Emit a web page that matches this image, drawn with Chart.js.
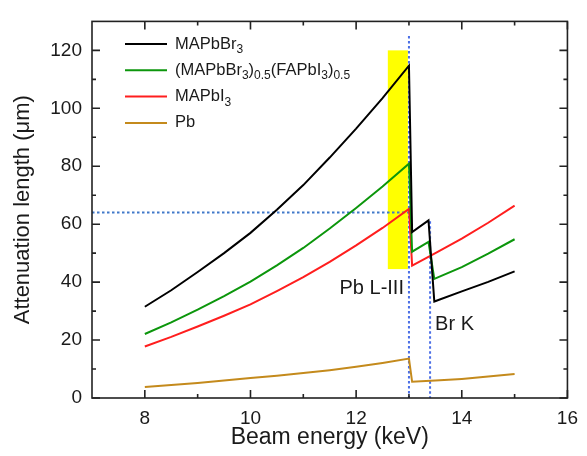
<!DOCTYPE html>
<html>
<head>
    <title>Attenuation length vs beam energy</title>
    <script src="https://cdn.jsdelivr.net/npm/chart.js"></script>
    <style>
        body { margin: 0; background: #fff; }
    </style>
</head>
<body>
    <canvas id="attChart" width="587" height="456"></canvas>

    <script>
        // energies (keV) for the Br-containing samples and for the I / Pb samples
        const energyBr = [8, 8.5, 9, 9.5, 10, 10.5, 11, 11.5, 12, 12.5, 13, 13.06, 13.37, 13.48, 14, 14.5, 15];
        const energyI = [8, 8.5, 9, 9.5, 10, 10.5, 11, 11.5, 12, 12.5, 13, 13.06, 13.5, 14, 14.5, 15];

        // attenuation length (um)
        const mapbbr3 = [31.5, 37.2, 43.5, 50, 57, 65, 73.5, 83, 93, 103.5, 114.7, 57.3, 61.3, 33.3, 36.8, 40.1, 43.7];
        const mixed = [22.1, 26.1, 30.5, 35.2, 40.2, 45.8, 51.8, 58.5, 65.6, 73, 80.9, 50.5, 53.9, 41.1, 45.2, 49.8, 54.8];
        const mapbi3 = [17.8, 21.1, 24.7, 28.4, 32.3, 36.9, 41.7, 47, 52.7, 58.7, 65.3, 45.7, 50, 55, 60.5, 66.4];
        const pb = [3.8, 4.5, 5.2, 6, 6.9, 7.7, 8.6, 9.6, 10.8, 12.1, 13.6, 5.6, 6, 6.6, 7.4, 8.3];

        const seriesNames = ['MAPbBr_{3}', '(MAPbBr_{3})_{0.5}(FAPbI_{3})_{0.5}', 'MAPbI_{3}', 'Pb'];
        const seriesColors = ['#000000', '#0c960c', '#ff1e1e', '#c48a1c'];

        const xTicks = [8, 10, 12, 14, 16];
        const xMinor = [9, 11, 13, 15];
        const yTicks = [0, 20, 40, 60, 80, 100, 120];
        const yMinor = [10, 30, 50, 70, 90, 110];

        // absorption edges and marks
        const edgeEnergy = [13.0, 13.4];
        const edgeTop = [125, 61];
        const edgeNames = ['Pb L-III', 'Br K'];
        const bandEnergy = [12.6, 12.98];
        const bandLength = [44.5, 120];
        const markLength = 64;

        const fontFam = 'Arial, "Liberation Sans", sans-serif';
        const ink = '#1a1a1a';

        function pts(xs, ys) {
            return xs.map((v, i) => ({x: v, y: ys[i]}));
        }

        // text with _{..} subscripts
        function drawRich(ctx, str, x, y, size) {
            const parts = str.split(/_\{([^}]*)\}/);
            let cx = x;
            parts.forEach((p, i) => {
                if (!p) return;
                const sub = i % 2 === 1;
                ctx.font = (sub ? Math.round(size * 0.7) : size) + 'px ' + fontFam;
                ctx.fillText(p, cx, sub ? y + size * 0.35 : y);
                cx += ctx.measureText(p).width;
            });
        }

        const decor = {
            id: 'decor',
            beforeDatasetsDraw(chart) {
                const {ctx, chartArea: a, scales: {x, y}} = chart;
                ctx.save();
                // yellow band
                ctx.fillStyle = '#ffff00';
                const bx0 = x.getPixelForValue(bandEnergy[0]);
                const bx1 = x.getPixelForValue(bandEnergy[1]);
                const by0 = y.getPixelForValue(bandLength[1]);
                const by1 = y.getPixelForValue(bandLength[0]);
                ctx.fillRect(bx0, by0, bx1 - bx0, by1 - by0);

                // edge lines
                ctx.strokeStyle = '#4a6ee6';
                ctx.lineWidth = 2;
                ctx.setLineDash([2.5, 2.5]);
                edgeEnergy.forEach((e, i) => {
                    const px = x.getPixelForValue(e);
                    ctx.beginPath();
                    ctx.moveTo(px, y.getPixelForValue(edgeTop[i]));
                    ctx.lineTo(px, a.bottom);
                    ctx.stroke();
                });

                // horizontal mark
                ctx.strokeStyle = '#4079c9';
                const hy = y.getPixelForValue(markLength);
                ctx.beginPath();
                ctx.moveTo(a.left, hy);
                ctx.lineTo(x.getPixelForValue(edgeEnergy[0]), hy);
                ctx.stroke();
                ctx.restore();
            },
            afterDraw(chart) {
                const {ctx, chartArea: a, scales: {x, y}} = chart;
                ctx.save();
                // frame
                ctx.strokeStyle = '#222';
                ctx.lineWidth = 1.6;
                ctx.strokeRect(a.left, a.top, a.right - a.left, a.bottom - a.top);

                // inward ticks on all four sides
                ctx.beginPath();
                const tickX = (vals, len) => vals.forEach(v => {
                    const px = x.getPixelForValue(v);
                    ctx.moveTo(px, a.bottom); ctx.lineTo(px, a.bottom - len);
                    ctx.moveTo(px, a.top); ctx.lineTo(px, a.top + len);
                });
                const tickY = (vals, len) => vals.forEach(v => {
                    const py = y.getPixelForValue(v);
                    ctx.moveTo(a.left, py); ctx.lineTo(a.left + len, py);
                    ctx.moveTo(a.right, py); ctx.lineTo(a.right - len, py);
                });
                tickX(xTicks, 8); tickX(xMinor, 4);
                tickY(yTicks, 8); tickY(yMinor, 4);
                ctx.stroke();

                // edge labels
                ctx.fillStyle = ink;
                ctx.font = '20px ' + fontFam;
                ctx.textBaseline = 'alphabetic';
                ctx.textAlign = 'right';
                ctx.fillText(edgeNames[0], x.getPixelForValue(edgeEnergy[0]) - 5, 294);
                ctx.textAlign = 'left';
                ctx.fillText(edgeNames[1], x.getPixelForValue(edgeEnergy[1]) + 5, 330);

                // legend
                ctx.textBaseline = 'middle';
                seriesNames.forEach((n, i) => {
                    const ly = 44 + i * 26.3;
                    ctx.strokeStyle = seriesColors[i];
                    ctx.lineWidth = 2;
                    ctx.beginPath();
                    ctx.moveTo(125, ly); ctx.lineTo(167, ly);
                    ctx.stroke();
                    ctx.fillStyle = ink;
                    drawRich(ctx, n, 175, ly, 16.5);
                });
                ctx.restore();
            }
        };

        const ctx = document.getElementById('attChart').getContext('2d');
        new Chart(ctx, {
            type: 'line',
            data: {
                datasets: [
                    {label: 'MAPbBr3', data: pts(energyBr, mapbbr3)},
                    {label: '(MAPbBr3)0.5(FAPbI3)0.5', data: pts(energyBr, mixed)},
                    {label: 'MAPbI3', data: pts(energyI, mapbi3)},
                    {label: 'Pb', data: pts(energyI, pb)}
                ].map((d, i) => Object.assign(d, {
                    borderColor: seriesColors[i],
                    borderWidth: 2,
                    pointRadius: 0,
                    tension: 0,
                    fill: false
                }))
            },
            options: {
                responsive: false,
                animation: false,
                devicePixelRatio: 1,
                layout: {padding: {top: 8, right: 15, left: 0, bottom: 0}},
                plugins: {legend: {display: false}, tooltip: {enabled: false}},
                scales: {
                    x: {
                        type: 'linear',
                        min: 7,
                        max: 16,
                        afterBuildTicks: s => { s.ticks = xTicks.map(v => ({value: v})); },
                        afterFit: s => { s.height = 58; },
                        grid: {display: false, drawTicks: false},
                        border: {display: false},
                        ticks: {color: ink, padding: 9, maxRotation: 0, font: {family: fontFam, size: 19}},
                        title: {display: true, text: 'Beam energy (keV)', color: ink,
                                padding: {top: 0, bottom: 5}, font: {family: fontFam, size: 23}}
                    },
                    y: {
                        min: 0,
                        max: 130,
                        afterBuildTicks: s => { s.ticks = yTicks.map(v => ({value: v})); },
                        afterFit: s => { s.width = 92; },
                        grid: {display: false, drawTicks: false},
                        border: {display: false},
                        ticks: {color: ink, padding: 10, font: {family: fontFam, size: 19}},
                        title: {display: true, text: 'Attenuation length (\u03bcm)', color: ink,
                                padding: {top: 10, bottom: 0}, font: {family: fontFam, size: 22}}
                    }
                }
            },
            plugins: [decor]
        });
    </script>
</body>
</html>
